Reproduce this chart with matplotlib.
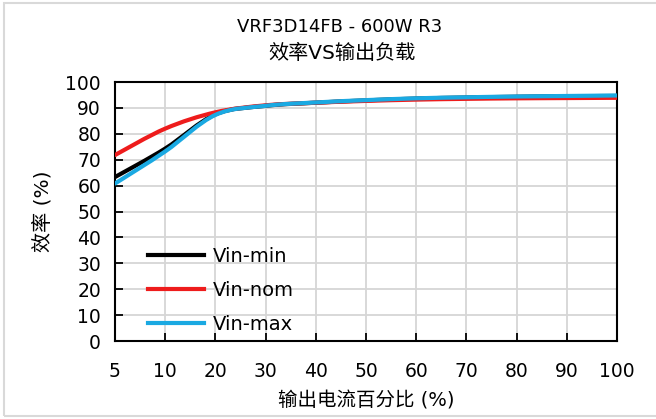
import matplotlib
matplotlib.use('Agg')
import matplotlib.pyplot as plt
import numpy as np
from matplotlib.path import Path
from matplotlib.patches import PathPatch, Rectangle
from matplotlib.lines import Line2D

plt.rcParams['font.family'] = ['DejaVu Sans', 'Noto Sans CJK SC']

# load categories (% of rated output current), evenly spaced on the axis
load_labels = ['5', '10', '20', '30', '40', '50', '60', '70', '80', '90', '100']
vin_min = [63.3, 74.3, 87.5, 90.8, 92.0, 92.9, 93.6, 94.0, 94.3, 94.5, 94.6]
vin_nom = [71.8, 82.0, 88.3, 91.0, 92.0, 92.7, 93.2, 93.5, 93.7, 93.8, 93.9]
vin_max = [60.8, 73.2, 87.3, 90.8, 92.1, 93.0, 93.7, 94.1, 94.4, 94.6, 94.8]

series = [('Vin-min', vin_min, 'black'),
          ('Vin-nom', vin_nom, '#ee1c1c'),
          ('Vin-max', vin_max, '#1aa9e2')]


def smooth_path(x, y):
    # excel-style smoothed line as cubic bezier segments
    pts = np.column_stack([x, y]).astype(float)
    n = len(pts)
    verts = [pts[0]]
    codes = [Path.MOVETO]
    for i in range(n - 1):
        p0 = pts[i - 1] if i > 0 else pts[i]
        p1 = pts[i]
        p2 = pts[i + 1]
        p3 = pts[i + 2] if i + 2 < n else pts[i + 1]
        c1 = p1 + (p2 - p0) / 6.0
        c2 = p2 - (p3 - p1) / 6.0
        verts += [c1, c2, p2]
        codes += [Path.CURVE4] * 3
    return Path(verts, codes)


fig = plt.figure(figsize=(6.56, 4.19), dpi=100)
ax = fig.add_axes([115 / 656, 1 - 341 / 419, 502 / 656, 259 / 419])

xpos = np.arange(len(load_labels))
for name, vals, col in series:
    ax.add_patch(PathPatch(smooth_path(xpos, vals), facecolor='none',
                           edgecolor=col, lw=3.0, capstyle='round', zorder=3))

ax.set_xlim(0, len(load_labels) - 1)
ax.set_ylim(0, 100)
ax.set_xticks(xpos)
ax.set_xticklabels(load_labels)
ax.set_yticks(np.arange(0, 101, 10))
ax.grid(True, color='#d6d6d6', lw=1.3)
ax.set_axisbelow(True)
ax.tick_params(direction='in', length=6, width=1.3, labelsize=13.5)
ax.tick_params(axis='x', pad=15)
ax.tick_params(axis='y', pad=10)
for s in ax.spines.values():
    s.set_linewidth(1.5)

ax.set_xlabel('输出电流百分比 (%)', fontsize=14, labelpad=8)
ax.set_ylabel('效率 (%)', fontsize=14.5, labelpad=9)

handles = [Line2D([0], [0], color=c, lw=3) for _, _, c in series]
ax.legend(handles, [n for n, _, _ in series], loc='lower left',
          bbox_to_anchor=(0.03, -0.04), frameon=False, fontsize=14,
          handlelength=2.9, handletextpad=0.45, labelspacing=0.76)

fig.text(340 / 656, 1 - 27 / 419, 'VRF3D14FB - 600W R3', ha='center', va='center', fontsize=13)
fig.text(342 / 656, 1 - 53 / 419, '效率VS输出负载', ha='center', va='center', fontsize=14.5)

fig.patches.append(Rectangle((4 / 656, 3 / 419), 660 / 656, 413 / 419, transform=fig.transFigure,
                             fill=False, edgecolor='#d9d9d9', lw=1.5))

fig.savefig('out.png', dpi=100)
